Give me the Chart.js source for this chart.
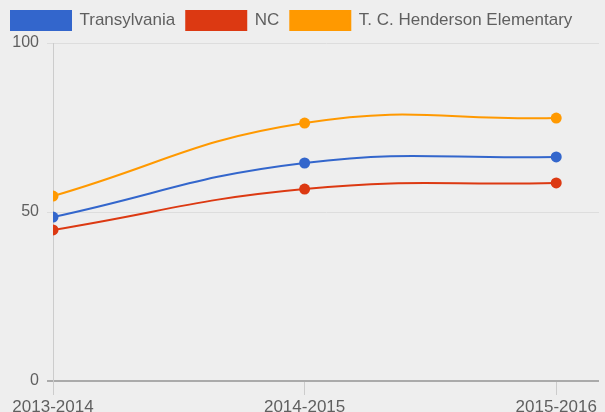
<!DOCTYPE html>
<html>
<head>
    <title>Proficiency by Year</title>
    <script src="https://cdn.jsdelivr.net/npm/chart.js"></script>
    <style>
        body { margin: 0; background: #eeeeee; }
        #wrap { width: 605px; height: 412px; }
    </style>
</head>
<body>
    <div id="wrap"><canvas id="lineChart"></canvas></div>
    <script>
        // values
        const years = ['2013-2014', '2014-2015', '2015-2016'];
        const transylvania = [48.5, 64.5, 66.3];
        const nc = [44.7, 56.8, 58.6];
        const henderson = [54.7, 76.3, 77.8];

        const toPoints = arr => arr.map((v, i) => ({ x: i, y: v }));

        // a little more room under the legend
        const legendGap = {
            id: 'legendGap',
            afterInit(chart) {
                const fit = chart.legend.fit;
                chart.legend.fit = function () {
                    fit.call(this);
                    this.height += 3;
                };
            }
        };

        const ctx = document.getElementById('lineChart').getContext('2d');
        const chart = new Chart(ctx, {
            type: 'line',
            data: {
                datasets: [
                    { label: 'Transylvania', data: toPoints(transylvania), borderColor: '#3366cc', backgroundColor: '#3366cc' },
                    { label: 'NC', data: toPoints(nc), borderColor: '#dc3912', backgroundColor: '#dc3912' },
                    { label: 'T. C. Henderson Elementary', data: toPoints(henderson), borderColor: '#ff9900', backgroundColor: '#ff9900' }
                ]
            },
            options: {
                responsive: true,
                maintainAspectRatio: false,
                animation: false,
                layout: { padding: { left: 0, right: 5, top: 0, bottom: 0 } },
                elements: {
                    line: { borderWidth: 2, tension: 0.45 },
                    point: { radius: 5.5, borderWidth: 0, hoverRadius: 6 }
                },
                plugins: {
                    legend: {
                        position: 'top',
                        align: 'start',
                        labels: {
                            boxWidth: 60,
                            boxHeight: 19,
                            padding: 11,
                            color: '#5f5f5f',
                            font: { family: 'Liberation Sans, Arial', size: 17 }
                        }
                    },
                    tooltip: { enabled: false }
                },
                scales: {
                    x: {
                        type: 'linear',
                        min: 0,
                        max: 2.17,
                        afterBuildTicks: s => { s.ticks = years.map((y, i) => ({ value: i })); },
                        afterFit: s => { s.height = 31; },
                        grid: { drawOnChartArea: false, tickLength: 14, color: '#cccccc' },
                        border: { display: false },
                        ticks: {
                            padding: 2,
                            color: '#5f5f5f',
                            font: { family: 'Liberation Sans, Arial', size: 17 },
                            callback: v => years[v]
                        }
                    },
                    y: {
                        min: 0,
                        max: 100,
                        afterFit: s => { s.width = 53; },
                        grid: {
                            tickLength: 6,
                            color: c => (c.tick && c.tick.value === 0) ? '#aaaaaa' : '#dddddd',
                            lineWidth: c => (c.tick && c.tick.value === 0) ? 2 : 1
                        },
                        border: { color: '#cccccc' },
                        ticks: {
                            stepSize: 50,
                            padding: 8,
                            color: '#5f5f5f',
                            font: { family: 'Liberation Sans, Arial', size: 16 }
                        }
                    }
                }
            },
            plugins: [legendGap]
        });
    </script>
</body>
</html>
